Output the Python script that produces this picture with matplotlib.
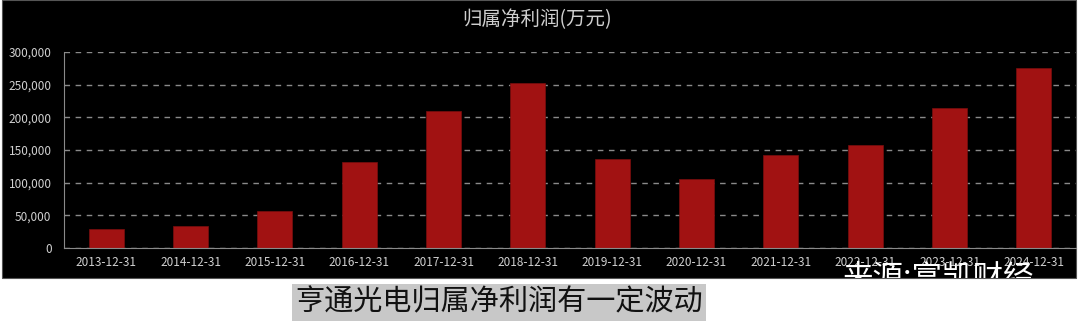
import matplotlib
matplotlib.use("Agg")
import matplotlib.pyplot as plt
from matplotlib.patches import Rectangle
from matplotlib.ticker import FuncFormatter

plt.rcParams['font.family'] = ['Noto Sans CJK SC', 'DejaVu Sans']

years = ['2013-12-31', '2014-12-31', '2015-12-31', '2016-12-31', '2017-12-31', '2018-12-31',
         '2019-12-31', '2020-12-31', '2021-12-31', '2022-12-31', '2023-12-31', '2024-12-31']
profit = [29000, 34000, 57000, 131000, 210000, 252000,
          136000, 106000, 142000, 158000, 215000, 276000]
yticks = [0, 50000, 100000, 150000, 200000, 250000, 300000]

W, H = 1080, 328
fig = plt.figure(figsize=(W / 100, H / 100), dpi=100)
fig.patch.set_facecolor('white')

# black panel behind the chart
panel = Rectangle((2 / W, 1 - 278 / H), 1074 / W, 278 / H, transform=fig.transFigure,
                  facecolor='black', edgecolor='#555555', linewidth=0.8, zorder=-1)
fig.patches.append(panel)

ax = fig.add_axes([64 / W, 1 - 248 / H, (1076 - 64) / W, (248 - 52) / H])
ax.set_facecolor('black')
x = range(len(years))
ax.bar(x, profit, width=0.415, color='#a11212', edgecolor='#7a0e0e', linewidth=0.5, zorder=3)
ax.set_xlim(-0.5, len(years) - 0.5)
ax.set_ylim(0, 300000)
ax.set_yticks(yticks)
ax.yaxis.set_major_formatter(FuncFormatter(lambda v, p: f'{int(v):,}'))
ax.set_xticks(list(x))
ax.set_xticklabels(years)
ax.tick_params(axis='both', length=0, colors='#d0d0d0', labelsize=8.5)
ax.tick_params(axis='y', pad=9)
ax.tick_params(axis='x', pad=6)
ax.grid(axis='y', color='#8a8a8a', linestyle=(0, (4, 4)), linewidth=1, zorder=1)
for s in ['top', 'right']:
    ax.spines[s].set_visible(False)
ax.spines['left'].set_color('#8a8a8a')
ax.spines['bottom'].set_color('#8a8a8a')
ax.spines['bottom'].set_zorder(4)

fig.text(537 / W, 1 - 20 / H, '归属净利润(万元)', ha='center', va='center',
         color='#cfcfcf', fontsize=14)

# watermark, cut off by the panel edge
wm = fig.text(843 / W, 1 - 262 / H, '来源:富凯财经', ha='left', va='top',
              color='white', fontsize=22)
wm.set_clip_path(panel)

fig.text(295 / W, 1 - 302 / H, '亨通光电归属净利润有一定波动', ha='left', va='center',
         color='#111111', fontsize=21,
         bbox=dict(boxstyle='square,pad=0.12', facecolor='#c8c8c8', edgecolor='none'))

fig.savefig('out.png', dpi=100)
